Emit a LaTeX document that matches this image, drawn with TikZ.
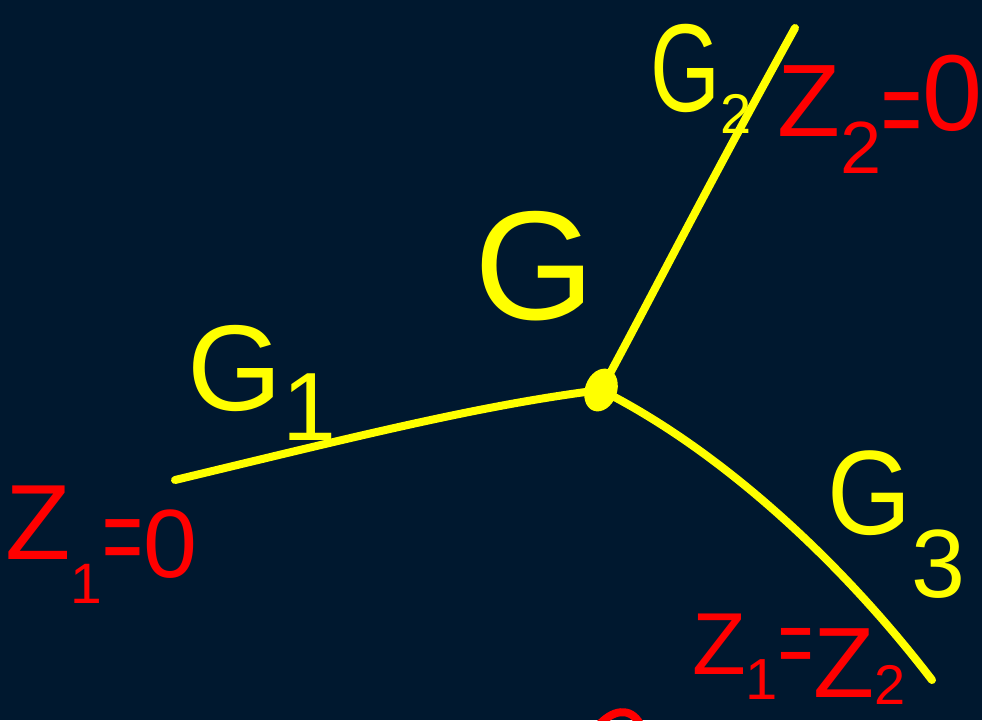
\documentclass[tikz,border=0pt]{standalone}
\usepackage{graphicx}
\usepackage{fontspec}
\setmainfont{Liberation Sans}
\usetikzlibrary{positioning}
\definecolor{navy}{HTML}{00182F}
\definecolor{hy}{HTML}{FFFF00}
\definecolor{hr}{HTML}{FF0000}
\newcommand\glyphsize[1]{\fontsize{#1}{#1}\selectfont}
% shifted glyph: shift, size, text
\newcommand\shifted[3]{\raisebox{#1}{\glyphsize{#2}#3}}
\newcommand\talleq{\scalebox{1}[1.6]{=}}
\begin{document}
\begin{tikzpicture}[x=1pt,y=-1pt,
 wire/.style={draw=hy,line width=8pt,line cap=round},
 ylab/.style={text=hy,inner sep=0pt},
 rlab/.style={text=hr,inner sep=0pt,anchor=base west},
 stroke/.style={draw=hr,line width=8pt,line cap=round}]
\fill[navy] (0,0) rectangle (982,720);
\useasboundingbox (0,0) rectangle (982,720);
\clip (0,0) rectangle (982,720);
% junction and branch ends
\coordinate (v) at (601,390);
\coordinate (e1) at (175,480);
\coordinate (e2) at (795,28);
\coordinate (e3) at (932,680);
\draw[wire] (e1) .. controls (350,438) and (480,405) .. (v);
\draw[wire] (v) .. controls (650,300) and (700,200) .. (e2);
\draw[wire] (v) .. controls (720,450) and (840,560) .. (e3);
\fill[hy,rotate around={-20:(v)}] (v) ellipse (16 and 22);
% yellow labels
\node[ylab,font=\glyphsize{155}] (g) at (535,266) {G};
\node[ylab,anchor=base west,font=\glyphsize{122}] (g1) at (187.5,410)
 {G\shifted{-30pt}{97}{1}};
\node[ylab,anchor=base west,font=\glyphsize{125}] (g2) at (650.7,111)
 {\scalebox{0.72}[1]{G}\shifted{-22pt}{56}{2}};
\node[ylab,anchor=base west,font=\glyphsize{120}] (g3) at (826.8,534)
 {\scalebox{0.9}[1]{G}\shifted{-63pt}{97}{3}};
% red labels
\node[rlab,font=\glyphsize{107}] (za) at (5.3,559.5)
 {Z\shifted{-44pt}{57}{1}\shifted{-15pt}{70}{\talleq}\shifted{-17.5pt}{97}{0}};
\node[rlab,font=\glyphsize{103}] (zb) at (777,136.9)
 {Z\shifted{-36.7pt}{74}{2}\shifted{-10.6pt}{70}{\talleq}\shifted{6pt}{108}{0}};
\node[rlab,font=\glyphsize{88}] (zc) at (692,674.5)
 {Z\shifted{-25.4pt}{58}{1}\shifted{-0.5pt}{60}{\talleq}\shifted{-22.5pt}{100}{Z}\shifted{-30pt}{56}{2}};
% cut-off stroke at the bottom edge
\draw[stroke] (598,726) .. controls (612,710) and (630,706) .. (640,724);
\end{tikzpicture}
\end{document}
